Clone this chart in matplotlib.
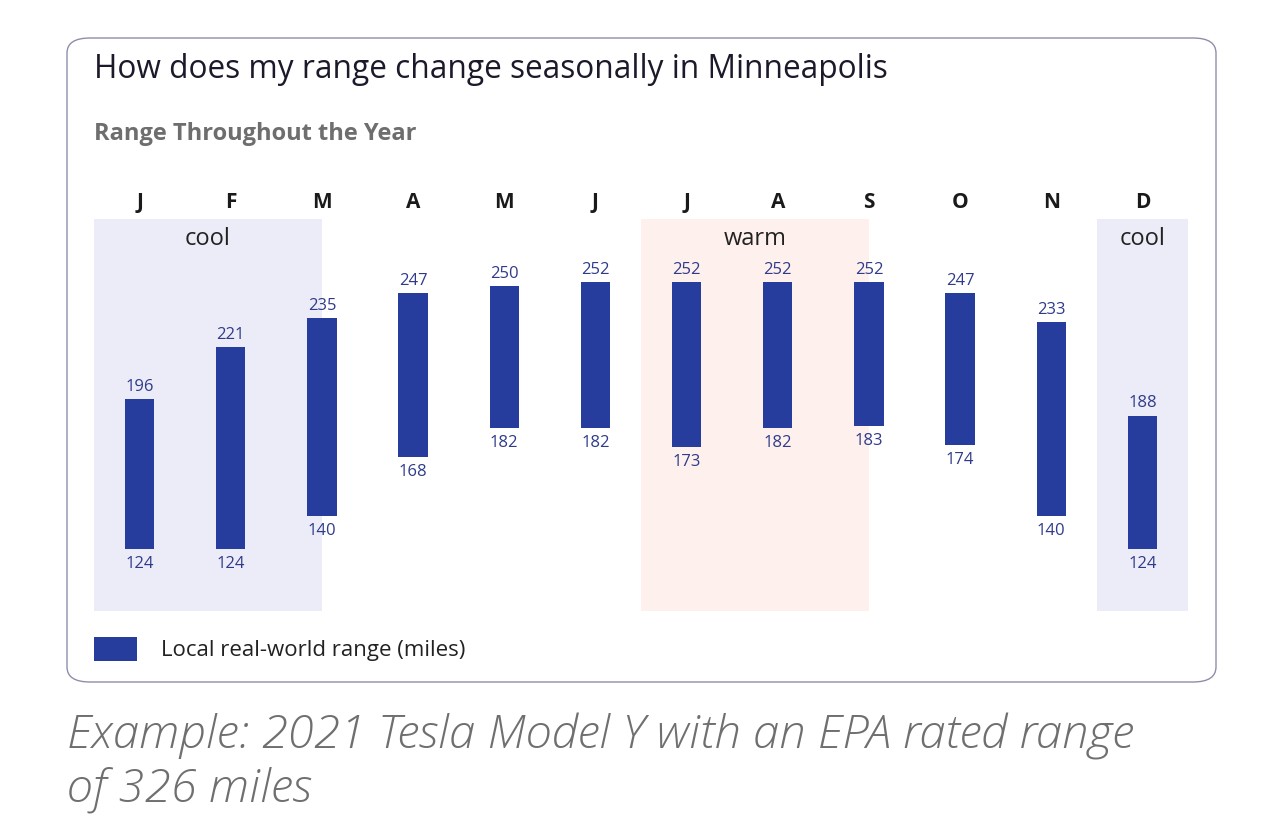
import matplotlib.pyplot as plt
from matplotlib.patches import FancyBboxPatch, Rectangle, Patch
from matplotlib.transforms import blended_transform_factory

plt.rcParams["font.family"] = ["Open Sans", "DejaVu Sans"]

months = ["J", "F", "M", "A", "M", "J", "J", "A", "S", "O", "N", "D"]
range_low = [124, 124, 140, 168, 182, 182, 173, 182, 183, 174, 140, 124]
range_high = [196, 221, 235, 247, 250, 252, 252, 252, 252, 247, 233, 188]

# seasons: (label, first month index, last month index)
seasons = [("cool", 0, 2), ("warm", 6, 8), ("cool", 11, 11)]

BAR = "#263d9e"
LABEL = "#2f3b8a"
SEASON_COLORS = {"cool": "#ececf8", "warm": "#fdf0ed"}

W, H = 1284, 835
fig = plt.figure(figsize=(W / 100, H / 100), dpi=100)
fig.patch.set_facecolor("white")

card = FancyBboxPatch(
    (67 / W, 1 - 682 / H), (1216 - 67) / W, (682 - 38) / H,
    boxstyle="round,pad=0,rounding_size=0.018",
    transform=fig.transFigure, facecolor="none",
    edgecolor="#8e8eab", linewidth=1.0, zorder=-1,
)
fig.patches.append(card)

ax = fig.add_axes([94 / W, 1 - 611 / H, 1094 / W, 392 / H])
ax.set_xlim(-0.5, 11.5)
ax.set_ylim(94.2, 282.4)
ax.axis("off")

xs = list(range(len(months)))
trans = blended_transform_factory(ax.transData, ax.transAxes)

for name, first, last in seasons:
    right = last if last > first else last + 0.5
    ax.add_patch(Rectangle((first - 0.5, 0), right - (first - 0.5), 1,
                           transform=trans, facecolor=SEASON_COLORS[name],
                           edgecolor="none", zorder=0))
    ax.text((first - 0.5 + right) / 2, 0.95, name, transform=trans,
            ha="center", va="center", fontsize=17, color="#222222")

ax.bar(xs, [h - l for h, l in zip(range_high, range_low)], bottom=range_low,
       width=0.32, color=BAR, zorder=2)

for x, lo, hi in zip(xs, range_low, range_high):
    ax.annotate(str(hi), (x, hi), xytext=(0, 3), textcoords="offset points",
                ha="center", va="bottom", fontsize=12, color=LABEL)
    ax.annotate(str(lo), (x, lo), xytext=(0, -5), textcoords="offset points",
                ha="center", va="top", fontsize=12, color=LABEL)

for x, m in zip(xs, months):
    ax.text(x, 1.041, m, transform=trans, ha="center", va="center",
            fontsize=15, fontweight="bold", color="#1a1a1a")

fig.text(94 / W, 1 - 70 / H, "How does my range change seasonally in Minneapolis",
         ha="left", va="center", fontsize=22.8, color="#1a1a2a")
fig.text(94 / W, 1 - 134 / H, "Range Throughout the Year",
         ha="left", va="center", fontsize=17, fontweight="bold", color="#6e6e6e")

fig.legend(handles=[Patch(facecolor=BAR, label="Local real-world range (miles)")],
           loc="center left", bbox_to_anchor=(94 / W, 1 - 649 / H),
           frameon=False, fontsize=16, handlelength=1.95, handleheight=1.3,
           handletextpad=1.05, borderpad=0, borderaxespad=0,
           labelcolor="#222222")

fig.text(67 / W, 1 - 737 / H, "Example: 2021 Tesla Model Y with an EPA rated range",
         ha="left", va="center", fontsize=34, style="italic", fontweight="light",
         color="#6f6f6f")
fig.text(67 / W, 1 - 790 / H, "of 326 miles",
         ha="left", va="center", fontsize=34, style="italic", fontweight="light",
         color="#6f6f6f")

fig.savefig("out.png", dpi=100, facecolor="white")
